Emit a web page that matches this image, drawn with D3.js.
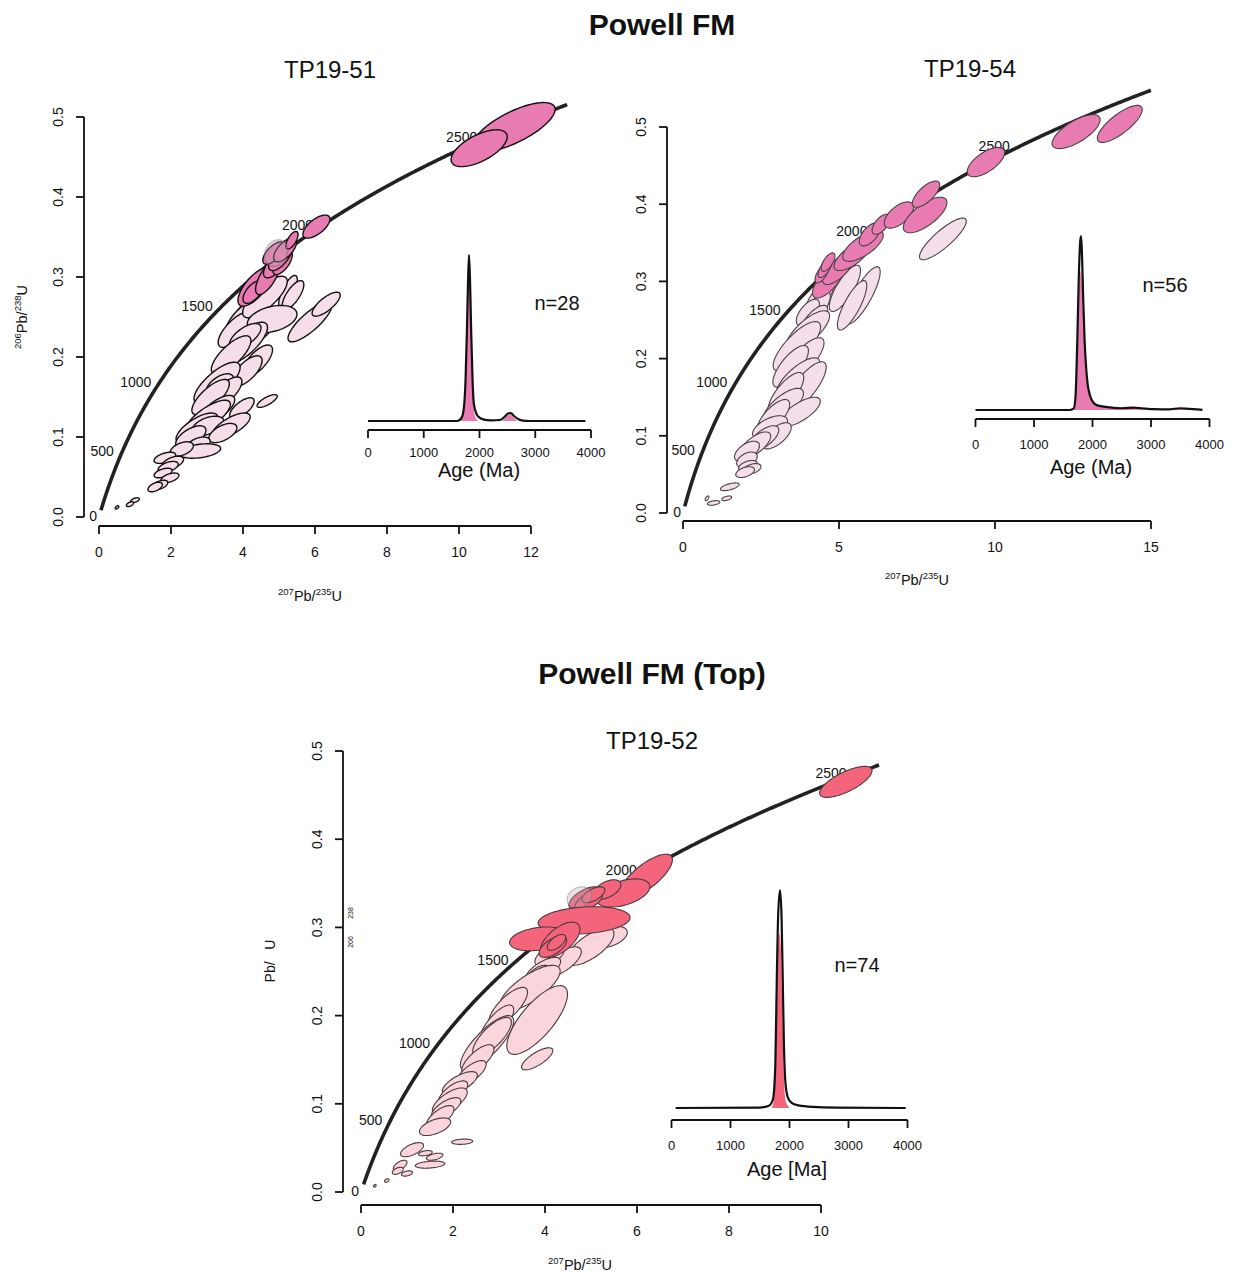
<!DOCTYPE html>
<html><head><meta charset="utf-8">
<script src="https://cdn.jsdelivr.net/npm/d3@7"></script>
<style>
body{margin:0;background:#fff}
text{font-family:"Liberation Sans",Arial,Helvetica,sans-serif;fill:#111}
</style>
</head><body>
<svg id="c" width="1238" height="1273"></svg>
<script>
// ---------------- DATA ----------------
const concordiaAges = [0, 500, 1000, 1500, 2000, 2500];
const lambda238 = 1.55125e-4, lambda235 = 9.8485e-4; // per Ma
const yTicks = [0, 0.1, 0.2, 0.3, 0.4, 0.5];
const ageTicks = [0, 1000, 2000, 3000, 4000];
const xTicks51 = [0, 2, 4, 6, 8, 10, 12];
const xTicks54 = [0, 5, 10, 15];
const xTicks52 = [0, 2, 4, 6, 8, 10];
const sectionTitles = ["Powell FM", "Powell FM (Top)"];
const sampleNames = ["TP19-51", "TP19-54", "TP19-52"];
const nLabels = ["n=28", "n=56", "n=74"];

// ellipses: [207Pb/235U, 206Pb/238U, half-range x, half-range y, rho, kind(0 discordant,1 concordant,2 grey)]
const ell51 = [
 [5.86,0.244,0.61,0.025,0.82,0],[6.31,0.266,0.39,0.015,0.75,0],
 [4.45,0.235,0.52,0.022,0.72,0],[4.19,0.259,0.47,0.022,0.72,0],[3.92,0.246,0.42,0.022,0.72,0],[3.78,0.234,0.47,0.022,0.72,0],
 [5.25,0.281,0.26,0.021,0.72,0],[5.39,0.2775,0.3,0.018,0.72,0],[4.61,0.275,0.62,0.026,0.75,0],
 [4.81,0.2475,0.69,0.017,0.35,0],[4.08,0.2175,0.6,0.026,0.75,0],[4.06,0.226,0.44,0.016,0.65,0],
 [4.4,0.195,0.42,0.02,0.7,0],[3.67,0.2025,0.55,0.024,0.75,0],[4.11,0.1825,0.42,0.019,0.68,0],
 [3.28,0.1675,0.64,0.026,0.75,0],[3.36,0.165,0.38,0.014,0.55,0],[3.5,0.155,0.47,0.02,0.72,0],[3.1,0.15,0.52,0.022,0.75,0],
 [4.67,0.145,0.28,0.008,0.75,0],[3.97,0.136,0.34,0.013,0.68,0],[3.3,0.135,0.47,0.017,0.68,0],
 [3.03,0.125,0.62,0.021,0.75,0],[2.72,0.111,0.58,0.019,0.7,0],[3.03,0.114,0.44,0.012,0.45,0],
 [3.67,0.114,0.53,0.016,0.7,0],[3.44,0.105,0.39,0.012,0.55,0],[2.55,0.1,0.42,0.014,0.6,0],
 [2.75,0.09,0.34,0.01,0.45,0],[2.8,0.0825,0.58,0.009,0.35,0],[2.3,0.085,0.32,0.009,0.45,0],
 [1.83,0.074,0.3,0.007,0.5,0],[2.05,0.068,0.3,0.008,0.5,0],[1.92,0.0625,0.28,0.007,0.5,0],
 [1.78,0.055,0.25,0.006,0.5,0],[1.97,0.049,0.25,0.006,0.5,0],[1.69,0.04,0.22,0.006,0.5,0],
 [1.56,0.0375,0.2,0.006,0.5,0],[1.0,0.021,0.12,0.003,0.5,0],[0.86,0.016,0.1,0.003,0.5,0],[0.5,0.012,0.05,0.002,0.5,0],
 [4.33,0.2875,0.47,0.024,0.7,1],[4.28,0.281,0.28,0.014,0.6,1],[4.69,0.300,0.34,0.022,0.7,1],
 [4.89,0.315,0.32,0.016,0.65,1],[5.1,0.318,0.27,0.015,0.65,1],[5.03,0.324,0.32,0.016,0.65,1],
 [4.85,0.33,0.3,0.014,0.65,1],[5.17,0.334,0.32,0.015,0.65,1],[5.36,0.346,0.17,0.011,0.65,1],[6.04,0.363,0.375,0.0144,0.65,1],
 [4.92,0.33,0.32,0.0165,0.2,2],
 [11.53,0.4875,1.14,0.0306,0.72,1],[10.56,0.461,0.78,0.023,0.62,1]
];
const ell54 = [
 [8.33,0.355,0.75,0.027,0.85,0],
 [5.77,0.282,0.55,0.037,0.82,0],[5.19,0.291,0.5,0.03,0.78,0],[5.42,0.269,0.47,0.032,0.8,0],
 [4.39,0.28,0.44,0.02,0.7,0],[4.3,0.265,0.42,0.022,0.72,0],[4.0,0.26,0.37,0.017,0.65,0],
 [4.17,0.247,0.47,0.022,0.72,0],[4.0,0.236,0.7,0.026,0.75,0],[3.65,0.216,0.76,0.032,0.78,0],
 [3.9,0.2,0.62,0.027,0.75,0],[3.45,0.19,0.57,0.027,0.75,0],[3.69,0.175,0.7,0.026,0.75,0],
 [3.94,0.164,0.65,0.032,0.78,0],[3.3,0.155,0.57,0.027,0.75,0],[3.21,0.1385,0.65,0.023,0.72,0],
 [3.75,0.131,0.65,0.019,0.72,0],[2.9,0.125,0.52,0.022,0.72,0],[2.79,0.111,0.56,0.015,0.55,0],
 [3.0,0.1,0.47,0.017,0.65,0],[2.6,0.097,0.47,0.016,0.65,0],[2.31,0.088,0.5,0.017,0.68,0],
 [2.05,0.08,0.4,0.013,0.55,0],[2.05,0.069,0.33,0.01,0.45,0],[2.08,0.061,0.3,0.007,0.45,0],
 [2.2,0.057,0.3,0.007,0.45,0],[1.99,0.053,0.3,0.007,0.45,0],[1.5,0.034,0.3,0.005,0.6,0],
 [1.4,0.019,0.16,0.003,0.5,0],[0.98,0.013,0.2,0.003,0.4,0],[0.77,0.019,0.06,0.003,0.5,0],
 [4.65,0.3005,0.5,0.022,0.7,1],[4.97,0.316,0.5,0.02,0.7,1],[4.45,0.31,0.22,0.012,0.65,1],
 [4.55,0.317,0.22,0.012,0.65,1],[4.65,0.325,0.22,0.012,0.65,1],[5.42,0.333,0.58,0.019,0.7,1],
 [5.77,0.346,0.65,0.02,0.7,1],[5.99,0.361,0.34,0.015,0.6,1],[6.35,0.374,0.29,0.013,0.6,1],
 [6.92,0.386,0.47,0.017,0.6,1],[7.76,0.386,0.7,0.023,0.7,1],[7.79,0.413,0.44,0.017,0.7,1],
 [9.71,0.4546,0.6,0.019,0.65,1],[12.6,0.494,0.77,0.022,0.7,1],[14.0,0.504,0.72,0.024,0.78,1]
];
const ell52 = [
 [5.41,0.289,0.38,0.012,0.45,0],[4.98,0.278,0.52,0.021,0.7,0],[4.37,0.261,0.42,0.017,0.68,0],
 [4.1,0.268,0.32,0.012,0.55,0],[3.96,0.252,0.38,0.014,0.68,0],[3.85,0.245,0.27,0.012,0.55,0],
 [3.67,0.231,0.66,0.026,0.75,0],[3.2,0.21,0.42,0.022,0.75,0],[3.83,0.195,0.66,0.039,0.75,0],
 [2.95,0.19,0.37,0.022,0.75,0],[2.74,0.169,0.58,0.031,0.8,0],[2.85,0.176,0.42,0.022,0.75,0],
 [2.54,0.15,0.35,0.017,0.72,0],[3.83,0.151,0.34,0.0125,0.75,0],[2.4,0.135,0.32,0.014,0.7,0],
 [2.15,0.1235,0.38,0.013,0.68,0],[2.0,0.112,0.32,0.014,0.68,0],[1.93,0.103,0.38,0.015,0.68,0],
 [1.85,0.095,0.32,0.012,0.68,0],[1.72,0.085,0.3,0.013,0.68,0],[1.61,0.074,0.34,0.01,0.55,0],
 [2.2,0.057,0.23,0.003,0.2,0],[1.11,0.048,0.25,0.008,0.6,0],[1.4,0.044,0.15,0.003,0.4,0],
 [1.6,0.04,0.18,0.004,0.5,0],[1.5,0.031,0.32,0.004,0.3,0],[0.85,0.03,0.15,0.006,0.6,0],
 [0.8,0.024,0.12,0.004,0.5,0],[1.0,0.021,0.12,0.003,0.4,0],[0.56,0.013,0.05,0.002,0.4,0],[0.3,0.007,0.03,0.0015,0.4,0],
 [6.2,0.358,0.57,0.025,0.75,1],[5.7,0.339,0.58,0.016,0.45,1],[5.35,0.343,0.3,0.011,0.5,1],
 [4.87,0.333,0.35,0.013,0.6,1],[4.95,0.33,0.3,0.011,0.6,1],[5.05,0.337,0.25,0.009,0.6,1],
 [4.75,0.334,0.27,0.012,0.2,2],
 [4.85,0.308,1.0,0.0155,0.2,1],[3.85,0.287,0.62,0.0135,0.3,1],[4.33,0.286,0.43,0.02,0.6,1],
 [4.17,0.278,0.3,0.012,0.6,1],[4.25,0.283,0.2,0.009,0.6,1],[10.54,0.465,0.57,0.0176,0.72,1]
];

// KDE curves: [age Ma, relative density]
const kde51Line = [[0,0],[1600,0],[1680,0.02],[1720,0.08],[1750,0.25],[1775,0.55],[1795,0.85],[1812,1.0],[1830,0.85],[1850,0.55],[1875,0.25],[1900,0.1],[1950,0.04],[2000,0.02],[2080,0.008],[2200,0.004],[2370,0.006],[2450,0.025],[2510,0.045],[2560,0.048],[2620,0.03],[2700,0.01],[2780,0.002],[2900,0],[3900,0]];
const kde51Fill = [[1650,0],[1700,0.04],[1740,0.16],[1770,0.45],[1795,0.8],[1812,0.92],[1830,0.8],[1850,0.5],[1875,0.2],[1900,0.06],[1940,0.015],[1980,0],[2400,0],[2450,0.012],[2510,0.035],[2560,0.037],[2620,0.018],[2690,0],[3900,0]];
const kde54Line = [[0,0],[1600,0],[1680,0.01],[1710,0.08],[1740,0.4],[1765,0.75],[1790,0.97],[1805,1.0],[1820,0.9],[1840,0.65],[1865,0.4],[1890,0.25],[1915,0.155],[1960,0.08],[2020,0.04],[2100,0.025],[2300,0.015],[2500,0.01],[2700,0.014],[2850,0.01],[3050,0.005],[3300,0.004],[3500,0.01],[3600,0.008],[3880,0.001]];
const kde54Fill = [[1660,0],[1700,0.04],[1730,0.3],[1760,0.6],[1790,0.78],[1805,0.8],[1820,0.72],[1840,0.55],[1865,0.36],[1890,0.22],[1915,0.14],[1960,0.075],[2020,0.038],[2100,0.024],[2300,0.014],[2500,0.01],[2700,0.013],[2850,0.009],[3050,0.004],[3300,0.003],[3500,0.009],[3600,0.007],[3880,0]];
const kde52Line = [[70,0],[1500,0.002],[1650,0.01],[1720,0.04],[1760,0.2],[1785,0.6],[1810,0.9],[1840,1.0],[1865,0.88],[1885,0.6],[1905,0.3],[1930,0.12],[1970,0.05],[2030,0.025],[2150,0.012],[2400,0.005],[2800,0.002],[3970,0]];
const kde52Fill = [[1700,0],[1740,0.05],[1770,0.3],[1800,0.68],[1830,0.8],[1855,0.72],[1880,0.45],[1905,0.15],[1930,0.04],[1970,0.01],[2000,0]];

// ---------------- LAYOUT ----------------
const panels = [
 {name:sampleNames[0], nLab:nLabels[0], ell:ell51, xTicks:xTicks51, xDom:[0,12], xR:[99,531], yR:[517,117],
  yAxisX:84, xAxisY:526, tEnd:2680, titleX:330, titleY:69, yLabel:'full', yLabX:22,
  xLabX:310, xLabY:596, dark:'#E87BB1', light:'#F5DDE9', stroke:'#111', sw:1.4,
  kde:{line:kde51Line, fill:kde51Fill, aR:[368,591], base:421, h:166, axisY:430, labY:452, title:'Age (Ma)', tX:479, tY:470, nX:557, nY:303}},
 {name:sampleNames[1], nLab:nLabels[1], ell:ell54, xTicks:xTicks54, xDom:[0,15], xR:[683,1151], yR:[513,127],
  yAxisX:667, xAxisY:521, tEnd:2815, titleX:970, titleY:68, yLabel:'none',
  xLabX:917, xLabY:580, dark:'#E87BB1', light:'#F4DEE9', stroke:'#4a4046', sw:1.1,
  kde:{line:kde54Line, fill:kde54Fill, aR:[975.5,1209.5], base:410, h:174, axisY:419, labY:444, title:'Age (Ma)', tX:1091, tY:467, nX:1165, nY:285}},
 {name:sampleNames[2], nLab:nLabels[2], ell:ell52, xTicks:xTicks52, xDom:[0,10], xR:[361,821], yR:[1192,751],
  yAxisX:343, xAxisY:1205, tEnd:2547, titleX:652, titleY:740, yLabel:'broken', yLabX:270,
  xLabX:580, xLabY:1265, dark:'#F4647A', light:'#FAD5DC', stroke:'#4a3a3e', sw:1.1,
  kde:{line:kde52Line, fill:kde52Fill, aR:[671.5,907.5], base:1108, h:218, axisY:1120, labY:1145, title:'Age [Ma]', tX:787, tY:1169, nX:857, nY:965}}
];

const svg = d3.select('#c');
svg.append('rect').attr('width',1238).attr('height',1273).attr('fill','#fff');

svg.append('text').attr('x',662).attr('y',24).attr('text-anchor','middle').attr('dominant-baseline','central')
  .attr('font-size',30).attr('font-weight','bold').text(sectionTitles[0]);
svg.append('text').attr('x',652).attr('y',673).attr('text-anchor','middle').attr('dominant-baseline','central')
  .attr('font-size',30).attr('font-weight','bold').text(sectionTitles[1]);

function supLabel(g, parts){
  const t = g.append('text').attr('text-anchor','middle').attr('dominant-baseline','central');
  let prevSup=false;
  parts.forEach(([s,sup])=>{
    const ts=t.append('tspan').text(s).attr('font-size',sup?9.5:14.5);
    if(sup!==prevSup) ts.attr('dy', sup? -5 : 5);
    prevSup=sup;
  });
  return t;
}

panels.forEach(p=>{
  const g = svg.append('g');
  const x = d3.scaleLinear().domain(p.xDom).range(p.xR);
  const y = d3.scaleLinear().domain([0,0.5]).range(p.yR);

  g.append('text').attr('x',p.titleX).attr('y',p.titleY).attr('text-anchor','middle').attr('dominant-baseline','central')
    .attr('font-size',24).text(p.name);

  g.append('line').attr('x1',p.yAxisX).attr('x2',p.yAxisX).attr('y1',y(0)).attr('y2',y(0.5)).attr('stroke','#111').attr('stroke-width',1.8);
  yTicks.forEach(v=>{
    g.append('line').attr('x1',p.yAxisX-8).attr('x2',p.yAxisX).attr('y1',y(v)).attr('y2',y(v)).attr('stroke','#111').attr('stroke-width',1.8);
    g.append('text').attr('transform',`translate(${p.yAxisX-26},${y(v)}) rotate(-90)`).attr('text-anchor','middle')
      .attr('dominant-baseline','central').attr('font-size',14).text(v.toFixed(1));
  });
  g.append('line').attr('x1',x(p.xDom[0])).attr('x2',x(p.xDom[1])).attr('y1',p.xAxisY).attr('y2',p.xAxisY).attr('stroke','#111').attr('stroke-width',1.8);
  p.xTicks.forEach(v=>{
    g.append('line').attr('x1',x(v)).attr('x2',x(v)).attr('y1',p.xAxisY).attr('y2',p.xAxisY+8).attr('stroke','#111').attr('stroke-width',1.8);
    g.append('text').attr('x',x(v)).attr('y',p.xAxisY+26).attr('text-anchor','middle').attr('dominant-baseline','central')
      .attr('font-size',14).text(v);
  });
  const xl = supLabel(g, [['207',true],['Pb/',false],['235',true],['U',false]]);
  xl.attr('transform',`translate(${p.xLabX},${p.xLabY})`);
  if(p.yLabel==='full'){
    const yl = supLabel(g, [['206',true],['Pb/',false],['238',true],['U',false]]);
    yl.attr('transform',`translate(${p.yLabX},${(p.yR[0]+p.yR[1])/2}) rotate(-90)`);
  } else if(p.yLabel==='broken'){
    g.append('text').attr('transform',`translate(${p.yLabX},961) rotate(-90)`).attr('text-anchor','middle')
      .attr('dominant-baseline','central').attr('font-size',14).text('Pb/\u00a0\u00a0\u00a0U');
    g.append('text').attr('transform',`translate(350,942) rotate(-90)`).attr('text-anchor','middle')
      .attr('dominant-baseline','central').attr('font-size',7).text('206');
    g.append('text').attr('transform',`translate(350,913) rotate(-90)`).attr('text-anchor','middle')
      .attr('dominant-baseline','central').attr('font-size',7).text('238');
  }

  const conc = d3.range(55, p.tEnd+1, 5).map(t=>[Math.exp(lambda235*t)-1, Math.exp(lambda238*t)-1]);
  g.append('path').attr('d', d3.line().x(d=>x(d[0])).y(d=>y(d[1]))(conc))
    .attr('fill','none').attr('stroke','#222').attr('stroke-width',3.6);
  concordiaAges.forEach(t=>{
    const cx = x(Math.exp(lambda235*t)-1), cy = y(Math.exp(lambda238*t)-1);
    g.append('text').attr('x',cx-(t===0?2:8)).attr('y',cy-1).attr('text-anchor','end').attr('dominant-baseline','central')
      .attr('font-size',14).text(t);
  });

  const ln = d3.line().x(d=>d[0]).y(d=>d[1]).curve(d3.curveLinearClosed);
  p.ell.forEach(e=>{
    const [ex,ey,a,b,r,k]=e, s=Math.sqrt(1-r*r);
    const pts = d3.range(0,72).map(i=>{const th=i/72*2*Math.PI; return [x(ex+a*Math.cos(th)), y(ey+b*(r*Math.cos(th)+s*Math.sin(th)))];});
    const fill = k===1? p.dark : k===0? p.light : 'rgba(190,170,180,0.35)';
    const stroke = k===2? 'rgba(120,100,110,0.4)' : p.stroke;
    g.append('path').attr('d', ln(pts)).attr('fill',fill).attr('stroke',stroke).attr('stroke-width',p.sw);
  });

  const K = p.kde;
  const ax = d3.scaleLinear().domain([0,4000]).range(K.aR);
  const ay = d3.scaleLinear().domain([0,1]).range([K.base, K.base-K.h]);
  g.append('path').attr('d', d3.area().x(d=>ax(d[0])).y0(K.base).y1(d=>ay(d[1])).curve(d3.curveMonotoneX)(K.fill))
    .attr('fill',p.dark).attr('stroke','none');
  g.append('path').attr('d', d3.line().x(d=>ax(d[0])).y(d=>ay(d[1])).curve(d3.curveMonotoneX)(K.line))
    .attr('fill','none').attr('stroke','#111').attr('stroke-width',2.2);
  g.append('line').attr('x1',ax(0)).attr('x2',ax(4000)).attr('y1',K.axisY).attr('y2',K.axisY).attr('stroke','#111').attr('stroke-width',1.8);
  ageTicks.forEach(v=>{
    g.append('line').attr('x1',ax(v)).attr('x2',ax(v)).attr('y1',K.axisY).attr('y2',K.axisY+8).attr('stroke','#111').attr('stroke-width',1.8);
    g.append('text').attr('x',ax(v)).attr('y',K.labY).attr('text-anchor','middle').attr('dominant-baseline','central')
      .attr('font-size',13).text(v);
  });
  g.append('text').attr('x',K.tX).attr('y',K.tY).attr('text-anchor','middle').attr('dominant-baseline','central')
    .attr('font-size',20).text(K.title);
  g.append('text').attr('x',K.nX).attr('y',K.nY).attr('text-anchor','middle').attr('dominant-baseline','central')
    .attr('font-size',20).text(p.nLab);
});
</script>
</body></html>
